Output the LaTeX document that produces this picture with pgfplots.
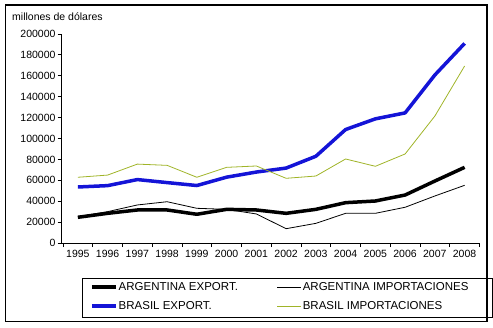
\documentclass[border=0pt]{standalone}
\usepackage{pgfplots}
\pgfplotsset{compat=1.18}
\usepackage{pgfplotstable}
\usepackage{fontspec}
\setmainfont{Liberation Sans}
\definecolor{bblue}{RGB}{20,20,215}
\definecolor{bgreen}{RGB}{160,180,40}
\pgfplotstableread{
year ae ai be bi
1995 24600 25200 53600 62900
1996 28400 30000 54900 65000
1997 31600 36400 60700 75500
1998 31600 39500 57800 74300
1999 27500 33200 55000 62900
2000 32200 32200 63000 72400
2001 31600 27800 67900 73700
2002 28400 13700 71700 61900
2003 32200 18800 83000 64100
2004 38600 28400 108600 80400
2005 40200 28400 118800 73400
2006 45900 34200 124500 85200
2007 59300 45000 160800 121500
2008 72400 55200 191000 169400
}\data
\begin{document}
\begin{tikzpicture}
\useasboundingbox (0pt,0pt) rectangle (493pt,327pt);
\draw[line width=1.1pt] (5.5pt,5.5pt) rectangle (487pt,322pt);
\node[anchor=west, font=\fontsize{10.5}{12}\selectfont, inner sep=0pt] at (12pt,310pt) {millones de dólares};
\begin{axis}[at={(61.5pt,84pt)}, anchor=south west, scale only axis,
  width=418pt, height=209pt,
  xmin=1994.45, xmax=2008.5, ymin=0, ymax=200000,
  axis x line*=bottom, axis y line*=left,
  axis line style={-, line width=0.8pt},
  xtick={1995,...,2008},
  major x tick style={draw=none},
  minor xtick={1994.5,1995.5,...,2008.5},
  ytick={0,20000,...,200000},
  tick align=outside, major tick length=4pt, minor tick length=4pt,
  every tick/.append style={black, line width=0.8pt},
  scaled y ticks=false,
  yticklabel style={/pgf/number format/fixed, /pgf/number format/set thousands separator={}, xshift=1.5pt},
  xticklabel style={/pgf/number format/set thousands separator={}},
  /pgf/number format/assume math mode=true,
  tick label style={font=\fontsize{10.5}{12}\selectfont},
  legend style={draw=none, fill=none, at={(0.0682,-0.256)}, anchor=west,
    inner sep=0pt, font=\fontsize{11.5}{13}\selectfont,
    /tikz/every even column/.append style={column sep=38pt},
    row sep=8pt,
    nodes={inner xsep=1pt, inner ysep=0pt, text height=8.5pt, text depth=2.5pt}},
  legend columns=2,
  legend cell align=left,
  legend image code/.code={\draw[#1] (0pt,0pt) -- (24pt,0pt);},
  line join=round
]
\addplot[black, line width=3.5pt] table[x=year,y=ae]{\data};
\addlegendentry{ARGENTINA EXPORT.}
\addplot[black, line width=0.8pt] table[x=year,y=ai]{\data};
\addlegendentry{ARGENTINA IMPORTACIONES}
\addplot[bblue, line width=3.5pt] table[x=year,y=be]{\data};
\addlegendentry{BRASIL EXPORT.}
\addplot[bgreen, line width=0.8pt] table[x=year,y=bi]{\data};
\addlegendentry{BRASIL IMPORTACIONES}
\end{axis}
\draw[line width=0.8pt] (82pt,10pt) rectangle (492pt,49pt);
\end{tikzpicture}
\end{document}
